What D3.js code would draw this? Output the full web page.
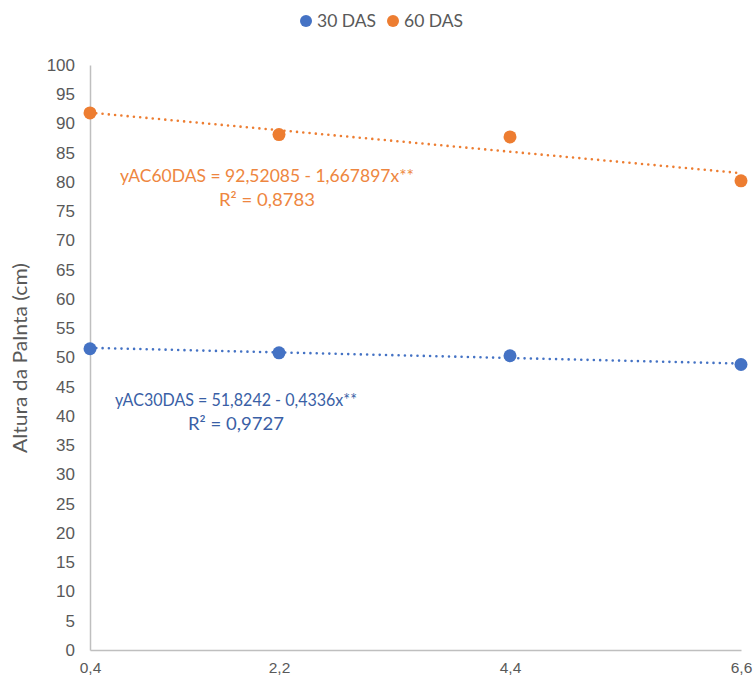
<!DOCTYPE html>
<html>
<head>
<meta charset="utf-8">
<script src="https://cdn.jsdelivr.net/npm/d3@7/dist/d3.min.js"></script>
<style>
  body { margin: 0; background: #fff; }
  svg { font-family: Lato, "Open Sans", sans-serif; }
</style>
</head>
<body>
<svg width="753" height="681"></svg>
<script>
const xValues = [0.4, 2.2, 4.4, 6.6];
const xTickLabels = ["0,4", "2,2", "4,4", "6,6"];
const series30 = [51.5, 50.8, 50.3, 48.8];
const series60 = [91.8, 88.1, 87.7, 80.2];
const seriesNames = ["30 DAS", "60 DAS"];
const colors = ["#4472C4", "#ED7D31"];
const trendCoefs = [[51.8242, -0.4336], [92.52085, -1.667897]];
const eqLabels = [
  ["yAC30DAS = 51,8242 - 0,4336x**", "R² = 0,9727"],
  ["yAC60DAS = 92,52085 - 1,667897x**", "R² = 0,8783"]
];
const yTicks = d3.range(0, 101, 5);

const svg = d3.select("svg");
const x = d3.scaleLinear().domain([0.4, 6.6]).range([90, 741]);
const y = d3.scaleLinear().domain([0, 100]).range([650, 65]);

// axes
const yAxis = svg.append("g")
  .attr("transform", `translate(${x(0.4)},0)`)
  .call(d3.axisLeft(y).tickValues(yTicks).tickSize(0).tickPadding(15));
yAxis.select(".domain").attr("stroke", "#BFBFBF").attr("stroke-width", 1.5);
yAxis.selectAll("text").attr("fill", "#595959").attr("font-size", 17);

const xAxis = svg.append("g")
  .attr("transform", `translate(0,${y(0)})`)
  .call(d3.axisBottom(x).tickValues(xValues).tickSize(0).tickPadding(12)
    .tickFormat((d, i) => xTickLabels[i]));
xAxis.select(".domain").attr("stroke", "#BFBFBF").attr("stroke-width", 1.5);
xAxis.selectAll("text").attr("fill", "#595959").attr("font-size", 15.5);

svg.append("text")
  .attr("transform", `translate(27,358) rotate(-90)`)
  .attr("text-anchor", "middle")
  .attr("fill", "#595959")
  .attr("font-size", 19)
  .attr("textLength", 190)
  .attr("lengthAdjust", "spacingAndGlyphs")
  .text("Altura da Palnta (cm)");

// series
[series30, series60].forEach((vals, s) => {
  const [a, b] = trendCoefs[s];
  svg.append("line")
    .attr("x1", x(0.4)).attr("y1", y(a + b * 0.4))
    .attr("x2", x(6.6)).attr("y2", y(a + b * 6.6))
    .attr("stroke", colors[s])
    .attr("stroke-width", 2.6)
    .attr("stroke-linecap", "round")
    .attr("stroke-dasharray", "0,6.3");

  svg.append("g").selectAll("circle")
    .data(vals)
    .join("circle")
    .attr("cx", (d, i) => x(xValues[i]))
    .attr("cy", d => y(d))
    .attr("r", 6.5)
    .attr("fill", colors[s]);
});

// equation labels
const eqPos = [[236, 406], [267, 182]];
const eqWidths = [[242, 96], [294, 96]];
eqLabels.forEach((lines, s) => {
  lines.forEach((ln, k) => {
    svg.append("text")
      .attr("text-anchor", "middle")
      .attr("fill", s === 0 ? "#3A5FA6" : "#EE8640")
      .attr("font-size", 18)
      .attr("x", eqPos[s][0])
      .attr("y", eqPos[s][1] + k * 24)
      .attr("textLength", eqWidths[s][k])
      .attr("lengthAdjust", "spacingAndGlyphs")
      .text(ln);
  });
});

// legend
const legendX = [306, 393];
seriesNames.forEach((name, s) => {
  svg.append("circle")
    .attr("cx", legendX[s]).attr("cy", 21).attr("r", 6)
    .attr("fill", colors[s]);
  svg.append("text")
    .attr("x", legendX[s] + 11).attr("y", 27)
    .attr("fill", "#595959")
    .attr("font-size", 17.5)
    .text(name);
});
</script>
</body>
</html>
